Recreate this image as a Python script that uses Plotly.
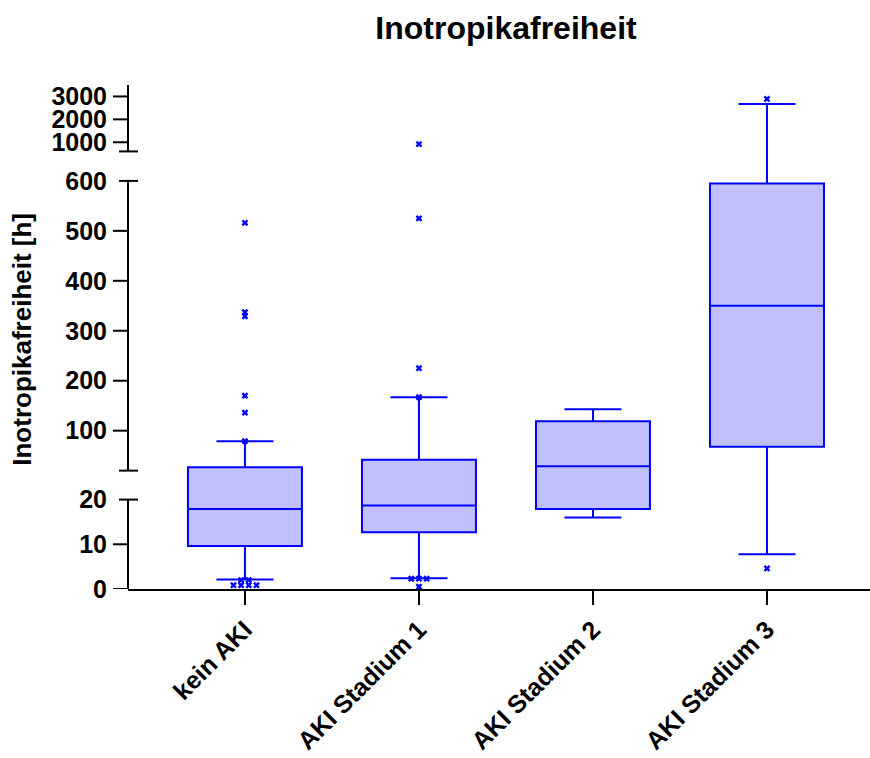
import plotly.graph_objects as go

# ---- data (hours) ----
groups = ["kein AKI", "AKI Stadium 1", "AKI Stadium 2", "AKI Stadium 3"]
lower_whisker = [2.1, 2.4, 16.0, 7.8]
q1_values = [9.6, 12.7, 17.9, 68.0]
median_values = [17.9, 18.7, 28.6, 350.0]
q3_values = [26.6, 42.0, 118.6, 595.0]
upper_whisker = [79.0, 167.0, 143.0, 2670.0]

outliers_kein = [516.0, 337.0, 329.0, 170.0, 136.0, 79.0, 0.85, 0.85, 0.85, 0.85, 2.0, 2.0]
outliers_st1 = [920.0, 525.0, 225.0, 167.0, 2.3, 2.3, 2.3, 0.5]
outliers_st2 = []
outliers_st3 = [2890.0, 4.6]
outliers = [outliers_kein, outliers_st1, outliers_st2, outliers_st3]

tick_values = [0, 10, 20, 100, 200, 300, 400, 500, 600, 1000, 2000, 3000]

# ---- broken y axis: three linear segments with gaps between them ----
# (value_from, value_to, axis_from, axis_to)
segments = [
    (0.0, 20.0, 0.0, 89.5),
    (20.0, 600.0, 118.5, 408.5),
    (600.0, 3500.0, 438.0, 504.5),
]
# which segment a tick label belongs to (20 and 600 sit on the top of a lower segment)
tick_segment = {0: 0, 10: 0, 20: 0, 100: 1, 200: 1, 300: 1, 400: 1, 500: 1,
                600: 1, 1000: 2, 2000: 2, 3000: 2}


def to_axis(v, seg=None):
    if seg is None:
        seg = 0 if v <= 20 else (1 if v <= 600 else 2)
    a, b, ua, ub = segments[seg]
    return ua + (v - a) * (ub - ua) / (b - a)


BLUE = "#0000FF"
FILL = "#C0C0FF"
FONT = "Arial, Liberation Sans, sans-serif"

fig = go.Figure()

fig.add_trace(go.Box(
    x=list(range(len(groups))),
    q1=[to_axis(v) for v in q1_values],
    median=[to_axis(v) for v in median_values],
    q3=[to_axis(v) for v in q3_values],
    lowerfence=[to_axis(v) for v in lower_whisker],
    upperfence=[to_axis(v) for v in upper_whisker],
    width=0.655,
    whiskerwidth=0.5,
    fillcolor=FILL,
    line=dict(color=BLUE, width=2),
    boxpoints=False,
    hoverinfo="skip",
    showlegend=False,
))

# outliers: tied values are spread side by side
spread = 0.044
ox, oy = [], []
for i, vals in enumerate(outliers):
    groups_by_val = {}
    for v in vals:
        groups_by_val.setdefault(v, []).append(v)
    for v, same in groups_by_val.items():
        n = len(same)
        for k in range(n):
            ox.append(i + (k - (n - 1) / 2) * spread)
            oy.append(to_axis(v))

fig.add_trace(go.Scatter(
    x=ox, y=oy, mode="markers",
    marker=dict(symbol="x", size=6, color=BLUE, line=dict(width=0)),
    hoverinfo="skip", showlegend=False,
))

shapes = []
# y axis line pieces
for a, b, ua, ub in segments:
    shapes.append(dict(type="line", xref="paper", yref="y", x0=0, x1=0,
                       y0=ua, y1=ub, line=dict(color="black", width=2)))
# y tick marks (20 and 600 get break caps instead)
for v in tick_values:
    if v in (20, 600):
        continue
    u = to_axis(v, tick_segment[v])
    shapes.append(dict(type="line", xref="paper", yref="y", xsizemode="pixel",
                       xanchor=0, x0=-15, x1=0, y0=u, y1=u,
                       line=dict(color="black", width=2)))
# break caps at the segment ends
for u in (segments[0][3], segments[1][2], segments[1][3], segments[2][2]):
    shapes.append(dict(type="line", xref="paper", yref="y", xsizemode="pixel",
                       xanchor=0, x0=-9, x1=10, y0=u, y1=u,
                       line=dict(color="black", width=2)))

fig.update_layout(
    width=870, height=758,
    margin=dict(l=128, r=0, t=85, b=168.5),
    paper_bgcolor="white", plot_bgcolor="white",
    title=dict(text="Inotropikafreiheit", x=506 / 870, xanchor="center",
               y=1 - 28 / 758, yanchor="middle",
               font=dict(family=FONT, size=32, color="black", weight="bold")),
    shapes=shapes,
    xaxis=dict(
        range=[-0.672, 3.592], automargin=False,
        tickvals=list(range(len(groups))), ticktext=groups, tickangle=-45,
        tickfont=dict(family=FONT, size=25, color="black", weight="bold"),
        showline=True, linecolor="black", linewidth=2,
        ticks="outside", ticklen=14, tickwidth=2, tickcolor="black",
        showgrid=False, zeroline=False,
    ),
    yaxis=dict(
        range=[0, 504.5], automargin=False,
        tickvals=[to_axis(v, tick_segment[v]) for v in tick_values],
        ticktext=[str(v) for v in tick_values],
        tickfont=dict(family=FONT, size=25, color="black", weight="bold"),
        showline=False, ticks="outside", ticklen=15, tickcolor="rgba(0,0,0,0)",
        showgrid=False, zeroline=False,
    ),
    annotations=[dict(
        text="Inotropikafreiheit [h]", textangle=-90,
        xref="paper", yref="paper", x=(22 - 128) / 742, y=(589.5 - 340) / 504.5,
        xanchor="center", yanchor="middle", showarrow=False,
        font=dict(family=FONT, size=26, color="black", weight="bold"),
    )],
)

fig.write_html("out.html")
